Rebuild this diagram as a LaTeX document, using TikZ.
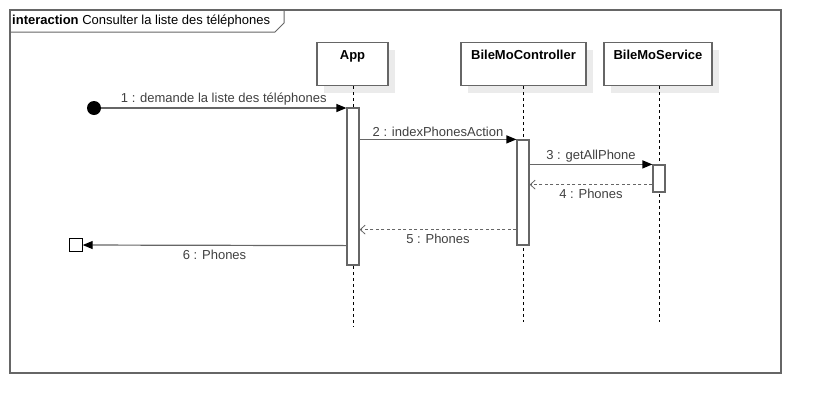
\documentclass[tikz,border=0pt]{standalone}
\usepackage{fontspec}
\setmainfont{Liberation Sans}
\usetikzlibrary{arrows.meta,shadows}
\begin{document}
\begin{tikzpicture}[x=1pt,y=-1pt,font=\fontsize{13}{16}\selectfont,
    head/.style={draw=black!60,line width=1.2pt,fill=white,minimum height=38pt,
      inner sep=5pt,text height=12pt,text depth=21pt,font=\fontsize{13}{16}\selectfont\bfseries,
      drop shadow={shadow xshift=7pt,shadow yshift=-7pt,fill=black!8,opacity=1}},
    act/.style={draw=black!60,line width=1.2pt,fill=white,minimum width=12pt,inner sep=0pt},
    life/.style={black,dash pattern=on 3pt off 3pt},
    msg/.style={black!60,line width=1.2pt,-{Triangle[length=10pt,width=8pt,color=black]}},
    ret/.style={black!60,line width=1.2pt,dash pattern=on 3pt off 2.5pt,
      -{Straight Barb[length=5pt,width=9pt,line width=0.8pt]}},
    lbl/.style={text=black!75,inner sep=2pt},
    lblb/.style={text=black!75,inner sep=4pt}]
  \useasboundingbox (0,0) rectangle (821,413);
  % frame
  \draw[black!60,line width=1.2pt] (10,10) rectangle (781,373);
  \draw[black!60,line width=1pt] (10,32) -- (275,32) -- (284,23) -- (284,10);
  \node[anchor=west,inner sep=0pt] (title) at (12,21) {\textbf{interaction} Consulter la liste des téléphones};
  % lifelines
  \draw
    (352.5,64) node[head,minimum width=71pt] (app){App}
    (523.5,64) node[head,minimum width=125pt] (ctrl){BileMoController}
    (658,64) node[head,minimum width=108pt] (serv){BileMoService};
  \coordinate (appEnd) at (353,327);
  \coordinate (ctrlEnd) at (523,322);
  \coordinate (servEnd) at (659,322);
  \draw[life] (app.south -| appEnd) -- (appEnd);
  \draw[life] (ctrl.south -| ctrlEnd) -- (ctrlEnd);
  \draw[life] (serv.south -| servEnd) -- (servEnd);
  % activations
  \node[act,minimum height=157pt] (appAct) at (353,186.5) {};
  \node[act,minimum height=105pt] (ctrlAct) at (523,192.5) {};
  \node[act,minimum height=27pt] (servAct) at (659,178.5) {};
  % found / lost ends
  \node[circle,fill=black,minimum size=14pt,inner sep=0pt] (start) at (94,108) {};
  \node[draw=black,fill=white,minimum size=13pt,inner sep=0pt] (stop) at (76,245) {};
  \coordinate (r4) at ([yshift=8pt]servAct.south west);
  \coordinate (r5) at ([yshift=16pt]ctrlAct.south west);
  % messages
  \begin{scope}[lbl]
    \draw[msg] (start) -- (start -| appAct.west) node[lbl,midway,above] {1 : demande la liste des téléphones};
    \draw[msg] (appAct.east |- ctrlAct.north) -- (ctrlAct.north west) node[lbl,midway,above] {2 : indexPhonesAction};
    \draw[msg] (ctrlAct.east |- servAct.north) -- (servAct.north west) node[lbl,midway,above] {3 : getAllPhone};
    \draw[ret] (r4) -- (r4 -| ctrlAct.east) node[lblb,midway,below] {4 : Phones};
    \draw[ret] (r5) -- (r5 -| appAct.east) node[lblb,midway,below] {5 : Phones};
    \draw[msg] (ctrlAct.south -| appAct.west) -- (stop) node[lblb,midway,below] {6 : Phones};
  \end{scope}
\end{tikzpicture}
\end{document}
